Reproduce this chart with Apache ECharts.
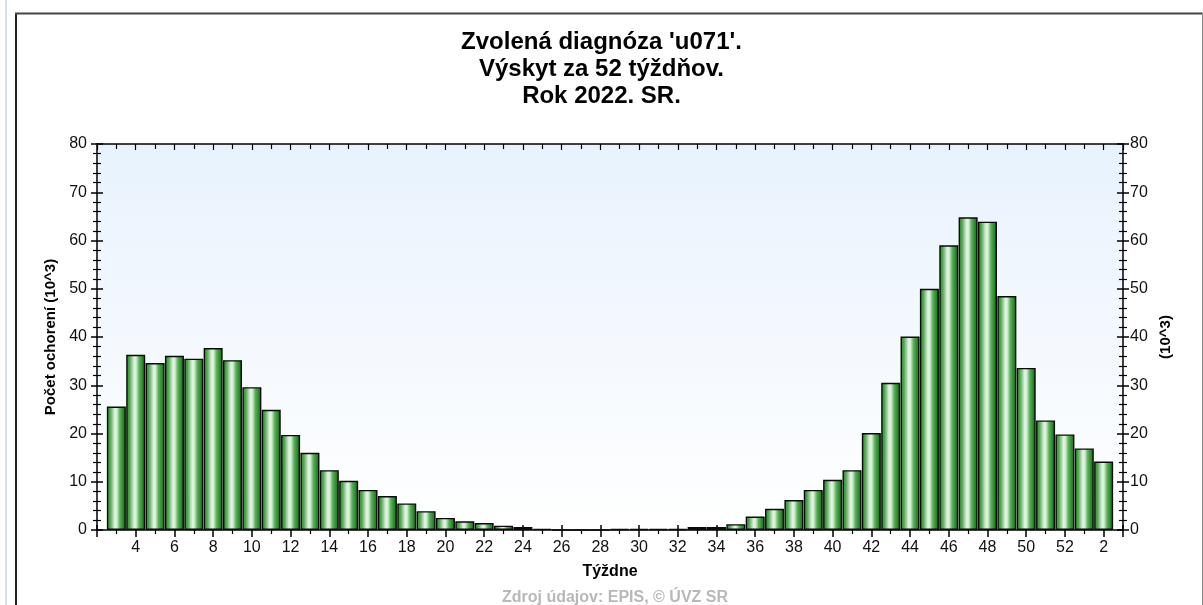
<!DOCTYPE html>
<html>
<head>
<meta charset="utf-8">
<script src="https://cdn.jsdelivr.net/npm/echarts@6/dist/echarts.min.js"></script>
<style>
html,body{margin:0;padding:0;background:#fff;}
#chart{width:1203px;height:605px;}
</style>
</head>
<body>
<div id="chart"></div>
<script>
// Weeks (3..52 of 2022, then 1..2 of next year)
const weeks = [3,4,5,6,7,8,9,10,11,12,13,14,15,16,17,18,19,20,21,22,23,24,25,26,27,28,29,30,31,32,33,34,35,36,37,38,39,40,41,42,43,44,45,46,47,48,49,50,51,52,1,2];
// Cases in thousands
const cases = [25.6,36.3,34.6,36.1,35.5,37.7,35.2,29.6,24.9,19.7,16.0,12.4,10.2,8.3,7.05,5.5,3.9,2.5,1.8,1.45,0.9,0.6,0.25,0,0,0,0.2,0.2,0.2,0.2,0.6,0.6,1.2,2.8,4.4,6.2,8.3,10.4,12.4,20.1,30.5,40.1,50.0,59.0,64.8,63.9,48.5,33.6,22.7,19.8,16.9,14.2];
const titleLines = ["Zvolená diagnóza 'u071'.", "Výskyt za 52 týždňov.", "Rok 2022. SR."];
const yAxisName = "Počet ochorení (10^3)";
const yAxisRightName = "(10^3)";
const xAxisName = "Týždne";
const sourceText = "Zdroj údajov: EPIS, © ÚVZ SR";

const FIRST_POS = 3; // sequential position of first week
const seriesData = cases.map((v, i) => [FIRST_POS + i, v]);
function posToWeek(p){ return p > 52 ? p - 52 : p; }

const chart = echarts.init(document.getElementById('chart'), null, {renderer:'canvas'});
const font = 'Liberation Sans, Arial, sans-serif';
const lineStyleAxis = {color:'#000', width:1.5};

const baseX = {
  type:'value', min:2, max:55, interval:2,
  splitLine:{show:false}
};
const baseY = {
  type:'value', min:0, max:80, interval:10,
  splitLine:{show:false}
};

const option = {
  animation:false,
  backgroundColor:'#fff',
  title:[{
    text: titleLines.join('\n'),
    left:'center', top:24,
    textStyle:{fontFamily:font, fontSize:24, fontWeight:'bold', color:'#000', lineHeight:27}
  },{
    text: sourceText,
    left:610, textAlign:'center', top:585,
    textStyle:{fontFamily:font, fontSize:16, fontWeight:'bold', color:'#b8b8b8'}
  }],
  grid:{
    left:97, right:80, top:144, bottom:75, show:true, borderWidth:0,
    backgroundColor:{type:'linear', x:0, y:0, x2:0, y2:1, colorStops:[{offset:0,color:'#e8f2fd'},{offset:1,color:'#ffffff'}]}
  },
  xAxis:[
    Object.assign({}, baseX, {
      position:'bottom',
      name:xAxisName, nameLocation:'middle', nameGap:34,
      nameTextStyle:{fontFamily:font, fontSize:16, fontWeight:'bold', color:'#000'},
      axisLine:{show:true, onZero:false, lineStyle:lineStyleAxis},
      axisTick:{show:true, inside:false, length:7, lineStyle:{color:'#000', width:1.5}},
      minorTick:{show:true, splitNumber:2, length:4, lineStyle:{color:'#000', width:1.2}},
      axisLabel:{
        fontFamily:font, fontSize:16, color:'#111', margin:10,
        showMinLabel:true, showMaxLabel:true,
        formatter:function(v){ return (v>=4 && v<=54 && v%2===0) ? String(posToWeek(v)) : ''; }
      }
    }),
    Object.assign({}, baseX, {
      position:'bottom', gridIndex:0,
      axisLine:{show:false, onZero:false},
      axisTick:{show:true, inside:true, length:5, lineStyle:{color:'#000', width:1.5}},
      axisLabel:{show:false}
    }),
    Object.assign({}, baseX, {
      position:'top',
      axisLine:{show:true, onZero:false, lineStyle:lineStyleAxis},
      axisTick:{show:true, inside:true, length:6, lineStyle:{color:'#000', width:1.2}},
      minorTick:{show:true, splitNumber:2, length:5, lineStyle:{color:'#000', width:1.2}},
      axisLabel:{show:false}
    })
  ],
  yAxis:[
    Object.assign({}, baseY, {
      position:'left',
      name:yAxisName, nameLocation:'middle', nameGap:38, nameRotate:90,
      nameTextStyle:{fontFamily:font, fontSize:15, fontWeight:'bold', color:'#000'},
      axisLine:{show:true, onZero:false, lineStyle:lineStyleAxis},
      axisTick:{show:true, inside:false, length:6, lineStyle:{color:'#000', width:1.5}},
      minorTick:{show:true, splitNumber:5, length:4, lineStyle:{color:'#000', width:1.2}},
      axisLabel:{fontFamily:font, fontSize:16, color:'#111', margin:10}
    }),
    Object.assign({}, baseY, {
      position:'left',
      axisLine:{show:false, onZero:false},
      axisTick:{show:true, inside:true, length:6, lineStyle:{color:'#000', width:1.5}},
      minorTick:{show:true, splitNumber:5, length:4, lineStyle:{color:'#000', width:1.2}},
      axisLabel:{show:false}
    }),
    Object.assign({}, baseY, {
      position:'right',
      name:yAxisRightName, nameLocation:'middle', nameGap:35, nameRotate:90,
      nameTextStyle:{fontFamily:font, fontSize:15, fontWeight:'bold', color:'#000'},
      axisLine:{show:true, onZero:false, lineStyle:lineStyleAxis},
      axisTick:{show:true, inside:false, length:6, lineStyle:{color:'#000', width:1.5}},
      minorTick:{show:true, splitNumber:5, length:4, lineStyle:{color:'#000', width:1.2}},
      axisLabel:{fontFamily:font, fontSize:16, color:'#111', margin:7}
    }),
    Object.assign({}, baseY, {
      position:'right',
      axisLine:{show:false, onZero:false},
      axisTick:{show:true, inside:true, length:6, lineStyle:{color:'#000', width:1.5}},
      minorTick:{show:true, splitNumber:5, length:4, lineStyle:{color:'#000', width:1.2}},
      axisLabel:{show:false}
    })
  ],
  series:[{
    type:'bar',
    xAxisIndex:0, yAxisIndex:0,
    data:seriesData,
    barWidth:19,
    itemStyle:{
      color:{type:'linear', x:0, y:0, x2:1, y2:0, colorStops:[
        {offset:0, color:'#2a842a'},
        {offset:0.18, color:'#52a852'},
        {offset:0.42, color:'#e2f3e2'},
        {offset:0.52, color:'#d8eed8'},
        {offset:0.68, color:'#5cb05c'},
        {offset:0.86, color:'#278a27'},
        {offset:1, color:'#166616'}
      ]},
      borderColor:'#0a0a0a', borderWidth:1.4
    }
  }],
  graphic:[
    {type:'line', shape:{x1:6, y1:0, x2:6, y2:605}, style:{stroke:'#d3e3ee', lineWidth:2}, silent:true},
    {type:'line', shape:{x1:16, y1:13, x2:16, y2:605}, style:{stroke:'#222', lineWidth:2}, silent:true},
    {type:'line', shape:{x1:15, y1:13.5, x2:1203, y2:13.5}, style:{stroke:'#444', lineWidth:2}, silent:true},
    {type:'line', shape:{x1:1202.5, y1:13, x2:1202.5, y2:605}, style:{stroke:'#888', lineWidth:1}, silent:true}
  ]
};
chart.setOption(option);
</script>
</body>
</html>
